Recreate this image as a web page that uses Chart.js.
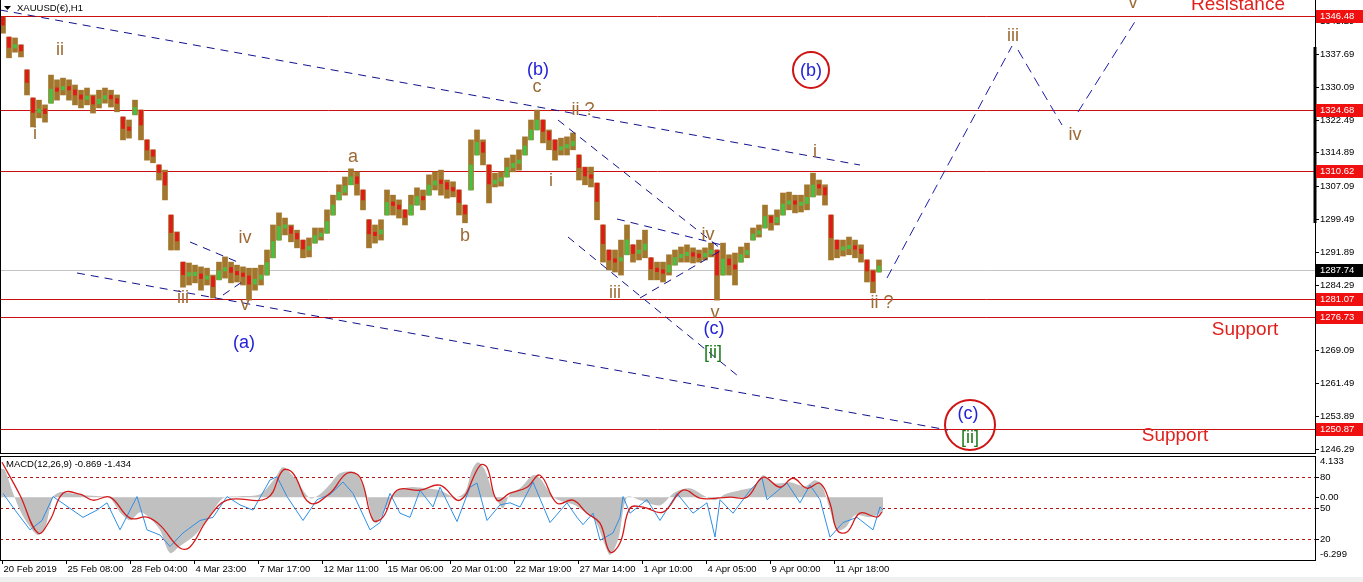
<!DOCTYPE html>
<html>
<head>
<meta charset="utf-8">
<script src="https://cdn.jsdelivr.net/npm/chart.js@4.4.0/dist/chart.umd.min.js"></script>
<style>
  html, body { margin: 0; padding: 0; background: #fff; }
  #wrap { position: relative; width: 1363px; height: 582px; overflow: hidden; background: #fff; }
  #main { position: absolute; left: 0; top: 0; }
  #osc { position: absolute; left: 0; top: 456px; }
  #foot { position: absolute; left: 0; top: 577px; width: 1363px; height: 5px; background: #f0f0f0; }
</style>
</head>
<body>
<div id="wrap">
  <canvas id="main" width="1363" height="456"></canvas>
  <canvas id="osc" width="1363" height="126"></canvas>
  <div id="foot"></div>
</div>
<script>
// price samples: every drawn bar groups ~6 hourly candles
const firstSample = 3
const sampleStep = 6
const highs = [
  1346.2,1341.6,1341.4,1339.8,1334.0,1327.5,1327.0,1325.9,1332.8,1331.7,
  1332.1,1331.7,1330.5,1329.3,1329.8,1328.2,1329.3,1329.8,1329.3,1328.2,
  1323.1,1322.4,1327.0,1324.7,1317.8,1315.5,1312.0,1310.8,1300.4,1296.5,
  1289.5,1289.3,1288.8,1288.4,1288.1,1286.5,1289.5,1290.7,1289.5,1288.8,
  1288.4,1288.1,1288.1,1288.8,1292.3,1298.1,1300.9,1299.7,1298.1,1296.9,
  1294.6,1295.1,1297.4,1297.4,1301.6,1305.0,1307.4,1309.2,1311.1,1310.4,
  1306.2,1299.3,1298.1,1299.3,1306.2,1305.0,1303.9,1301.6,1305.0,1306.7,
  1306.2,1309.7,1310.4,1310.8,1308.5,1308.1,1306.2,1302.7,1317.8,1320.1,
  1317.8,1312.0,1310.1,1310.4,1313.6,1314.3,1315.5,1318.5,1322.4,1324.7,
  1322.4,1320.1,1317.8,1318.2,1318.5,1319.4,1314.3,1311.5,1311.5,1307.8,
  1298.1,1292.3,1292.3,1294.6,1298.1,1293.5,1294.6,1296.9,1290.5,1289.5,
  1289.5,1291.2,1292.3,1293.0,1293.5,1292.8,1292.3,1292.8,1293.9,1292.3,
  1293.9,1291.2,1291.6,1293.0,1293.9,1297.4,1298.1,1302.7,1300.4,1301.6,
  1305.5,1305.7,1305.0,1305.0,1307.4,1310.1,1308.5,1307.4,1300.4,1294.6,
  1294.6,1295.3,1294.6,1293.5,1290.0,1287.7,1290.0
]
const lows = [
  1342.5,1336.8,1338.1,1337.0,1328.2,1320.8,1322.9,1321.9,1326.3,1327.0,
  1328.2,1327.0,1325.9,1325.2,1325.9,1324.0,1325.2,1326.3,1325.4,1324.3,
  1317.8,1318.2,1323.6,1317.8,1313.1,1312.5,1308.5,1303.9,1292.3,1292.3,
  1283.7,1284.2,1284.7,1283.0,1284.2,1281.2,1285.4,1285.8,1284.7,1284.9,
  1284.2,1280.7,1283.0,1284.2,1286.5,1290.5,1294.6,1295.8,1294.2,1292.8,
  1290.5,1290.7,1293.9,1294.6,1296.2,1300.4,1303.9,1305.0,1307.4,1305.0,
  1301.6,1292.8,1293.9,1294.6,1300.4,1300.4,1299.7,1298.1,1300.4,1302.7,
  1301.6,1305.0,1306.2,1305.0,1304.3,1304.6,1300.4,1298.6,1306.2,1314.3,
  1312.0,1303.2,1306.9,1307.1,1309.2,1310.4,1310.8,1314.3,1317.8,1320.1,
  1317.1,1315.5,1313.1,1314.3,1314.3,1315.5,1308.5,1307.4,1306.9,1299.3,
  1289.5,1287.7,1287.2,1286.5,1291.2,1289.5,1290.0,1290.5,1285.4,1285.4,
  1284.9,1286.5,1288.8,1289.5,1289.5,1289.3,1289.5,1290.0,1290.7,1280.7,
  1286.5,1286.5,1284.2,1289.5,1290.5,1294.6,1295.3,1297.4,1296.9,1298.1,
  1300.4,1301.6,1300.9,1301.1,1301.6,1304.6,1305.0,1302.7,1290.0,1290.5,
  1290.9,1291.2,1290.5,1289.5,1284.9,1282.4,1287.2
]

const levelPrices = [1346.48, 1324.68, 1310.62, 1281.07, 1276.73, 1250.87]
const lastPrice = 1287.74
const priceTicks = [1345.29, 1337.69, 1330.09, 1322.49, 1314.89, 1307.09, 1299.49,
  1291.89, 1284.29, 1276.69, 1269.09, 1261.49, 1253.89, 1246.29]

const dateTickBars = [2, 66, 130, 194, 258, 322, 386, 450, 514, 578, 642, 706, 770, 834]
const dateLabels = ["20 Feb 2019", "25 Feb 08:00", "28 Feb 04:00", "4 Mar 23:00", "7 Mar 17:00",
  "12 Mar 11:00", "15 Mar 06:00", "20 Mar 01:00", "22 Mar 19:00", "27 Mar 14:00",
  "1 Apr 10:00", "4 Apr 05:00", "9 Apr 00:00", "11 Apr 18:00"]

// MACD histogram (grey), signal (red), oscillator 0-100 (blue)
const histBars = [1,5,12,20,30,38,45,53,60,70,85,100,110,120,130,140,150,160,170,180,
  195,210,223,240,260,275,283,295,310,320,330,340,355,365,375,385,395,410,425,440,
  455,465,472,478,485,492,497,503,510,520,533,540,548,555,565,575,585,595,605,610,
  618,627,640,660,675,690,705,715,725,740,755,763,775,790,805,815,822,830,837,845,
  855,870,883]
const histValues = [2.9,2.7,0.7,-1.3,-3.0,-3.8,-3.1,0,0.5,0.4,0.2,0.1,-0.1,-1.5,-2.3,-1.5,-2.1,-3.3,-5.6,-4.9,
  -3.8,-1.8,-0.1,0.1,0.3,1.9,3.0,1.9,-0.1,0.3,1.3,2.4,2.5,0.7,-2.6,-1.3,0.5,1.0,0.9,0.7,
  0,0.5,2.7,3.5,2.7,0.7,-0.3,-1.1,0.3,0.9,2.2,1.9,0.7,-0.1,-0.5,-0.8,-1.5,-2.3,-4.8,-5.8,
  -4.3,0,-0.3,-0.8,0.5,0.9,0.1,-0.3,0.3,0.7,1.1,2.2,1.4,1.5,1.1,1.7,1.2,-1.3,-3.3,-3.1,
  -1.8,-2.0,-1.5]
const signalBars = [2,20,38,50,63,80,93,110,130,147,160,180,190,207,227,267,283,293,310,330,
  347,360,373,383,397,420,440,460,480,487,497,510,527,540,557,573,587,600,610,620,
  630,643,663,683,700,717,730,747,763,780,793,807,820,830,837,847,860,877,882]
const signalValues = [3.5,0.2,-3.6,-2.3,0.4,0.3,-0.3,0,-2.1,-2.0,-2.8,-5.1,-5.0,-2.3,-0.3,-0.1,2.7,2.4,-0.6,0.4,
  2.4,2.0,-2.3,-2.0,0.7,0.7,1.2,-0.3,3.2,3.0,-0.3,0.4,1.0,2.2,-0.6,-0.3,-1.6,-2.6,-5.5,-4.6,
  -1.1,-1.0,-1.5,0.7,-0.1,-0.1,0,0,2.0,1.0,1.9,0.9,1.4,-0.6,-3.3,-3.5,-1.6,-2.0,-1.5]
const oscBars = [3,15,30,42,53,65,83,97,107,120,137,147,160,170,183,200,213,227,240,253,
  270,277,287,303,317,330,343,353,370,380,390,400,410,420,433,440,457,470,477,487,
  500,510,520,533,550,567,577,583,593,600,613,620,623,630,647,660,677,693,707,715,
  720,733,750,762,767,787,800,810,820,830,843,857,873,880,883]
const oscValues = [64,48,29,38,61,53,41,48,55,29,61,29,24,13,26,38,41,61,53,48,
  77,80,61,38,58,63,75,64,29,36,64,45,41,67,51,70,37,70,74,38,
  53,55,51,75,36,55,41,34,45,19,26,41,61,45,58,38,64,45,55,22,
  58,45,67,79,58,74,55,72,58,22,36,41,29,51,48]
const oscLevels = [80, 50, 20]

// wave count annotations, placed in (bar, price)
const waveMarks = [
  ["ii", 60, 1338.6, "wave"], ["i", 35, 1319.2, "wave"], ["iii", 183, 1281.2, "wave"],
  ["iv", 245, 1295.1, "wave"], ["v", 245, 1279.6, "wave"], ["a", 353, 1313.8, "wave"],
  ["b", 465, 1295.5, "wave"], ["c", 537, 1330.0, "wave"], ["ii ?", 583, 1324.7, "wave"],
  ["i", 551, 1308.3, "wave"], ["iii", 615, 1282.3, "wave"], ["iv", 708, 1295.8, "wave"],
  ["v", 715, 1277.7, "wave"], ["i", 815, 1315.0, "wave"], ["ii ?", 882, 1280.0, "wave"],
  ["iii", 1013, 1341.8, "wave"], ["iv", 1075, 1318.9, "wave"], ["v", 1133, 1349.5, "wave"],
  ["(b)", 538, 1334.0, "degree"], ["(a)", 244, 1270.8, "degree"], ["(c)", 714, 1274.0, "degree"],
  ["(b)", 811, 1333.7, "degree"], ["(c)", 968, 1254.3, "degree"],
  ["[ii]", 713, 1268.5, "minor"], ["[ii]", 970, 1248.8, "minor"],
  ["Resistance", 1238, 1349.0, "zone"], ["Support", 1245, 1273.8, "zone"], ["Support", 1175, 1249.2, "zone"]
]
const ringMarks = [[811, 1334.0], [970, 1251.8]]
const trendLines = [
  [0, 1347.87, 860, 1311.98], [77, 1286.98, 948, 1250.63],
  [190, 1294.16, 240, 1289.30], [223, 1281.89, 242, 1284.90],
  [558, 1322.40, 720, 1292.77], [568, 1295.31, 738, 1263.14],
  [617, 1299.48, 722, 1293.46], [640, 1281.19, 722, 1292.31]
]
const projectionLines = [[887, 1285.82, 1012, 1339.53], [1018, 1338.61, 1062, 1321.24], [1078, 1324.25, 1136, 1345.55]]

const FONT = "'Liberation Sans', Arial, sans-serif"
const markColors = { wave: "#9c6a34", degree: "#2222d8", minor: "#1b7a1b", zone: "#e0201c" }

// candles: body runs from previous sample's mid to this one's
const mids = highs.map((h, i) => (h + lows[i]) / 2)
const candles = highs.map((h, i) => {
  const lo = lows[i]
  let open = i ? Math.min(Math.max(mids[i - 1], lo), h) : h
  let close = mids[i]
  let bLo = Math.min(open, close), bHi = Math.max(open, close)
  if (bHi - bLo < 0.8) { const c = (bHi + bLo) / 2; bLo = c - 0.4; bHi = c + 0.4 }
  return { x: firstSample + i * sampleStep, lo, hi: h, bLo, bHi, up: close >= open }
})

function line(ctx, x1, y1, x2, y2) {
  ctx.beginPath(); ctx.moveTo(x1, y1); ctx.lineTo(x2, y2); ctx.stroke()
}

const mainDecor = {
  id: "mainDecor",
  beforeDatasetsDraw(chart) {
    const { ctx, chartArea: a, scales: { y } } = chart
    ctx.save()
    ctx.lineWidth = 1
    ctx.strokeStyle = "#c4c4c4"
    let py = Math.round(y.getPixelForValue(lastPrice)) + 0.5
    line(ctx, a.left, py, a.right, py)
    ctx.strokeStyle = "#cc1010"
    levelPrices.forEach(p => {
      py = Math.round(y.getPixelForValue(p)) + 0.5
      line(ctx, a.left, py, a.right, py)
    })
    ctx.restore()
  },
  afterDatasetsDraw(chart) {
    const { ctx, scales: { x, y } } = chart
    ctx.save()
    ctx.lineWidth = 1
    ctx.strokeStyle = "#10108c"
    ctx.setLineDash([8, 6])
    trendLines.forEach(t => line(ctx, x.getPixelForValue(t[0]), y.getPixelForValue(t[1]), x.getPixelForValue(t[2]), y.getPixelForValue(t[3])))
    ctx.strokeStyle = "#1c1ca8"
    ctx.setLineDash([10, 6])
    projectionLines.forEach(t => line(ctx, x.getPixelForValue(t[0]), y.getPixelForValue(t[1]), x.getPixelForValue(t[2]), y.getPixelForValue(t[3])))
    ctx.setLineDash([])

    ctx.strokeStyle = "#d01414"
    ctx.lineWidth = 2
    ringMarks.forEach((r, i) => {
      ctx.beginPath()
      ctx.arc(x.getPixelForValue(r[0]), y.getPixelForValue(r[1]), i ? 25 : 18, 0, Math.PI * 2)
      ctx.stroke()
    })

    ctx.textAlign = "center"
    ctx.textBaseline = "middle"
    waveMarks.forEach(m => {
      ctx.font = (m[3] === "zone" ? "19px " : "18px ") + FONT
      ctx.fillStyle = markColors[m[3]]
      ctx.fillText(m[0], x.getPixelForValue(m[1]), y.getPixelForValue(m[2]))
    })
    ctx.restore()
  },
  afterDraw(chart) {
    const { ctx, chartArea: a, scales: { y } } = chart
    ctx.save()
    ctx.strokeStyle = "#000"
    ctx.lineWidth = 1
    line(ctx, 0.5, 0, 0.5, a.bottom + 0.5)
    line(ctx, 0, a.bottom + 0.5, a.right + 1, a.bottom + 0.5)
    line(ctx, a.right + 0.5, 0, a.right + 0.5, a.bottom + 0.5)
    ctx.lineWidth = 3
    line(ctx, a.right, 47, a.right, 223)
    ctx.lineWidth = 1

    ctx.font = "9.5px " + FONT
    ctx.textBaseline = "middle"
    ctx.textAlign = "left"
    ctx.fillStyle = "#000"
    priceTicks.forEach(p => {
      const py = Math.round(y.getPixelForValue(p)) + 0.5
      line(ctx, a.right, py, a.right + 4, py)
      ctx.fillText(p.toFixed(2), a.right + 5, py)
    })
    const box = (p, bg) => {
      const py = Math.round(y.getPixelForValue(p))
      ctx.fillStyle = bg
      ctx.fillRect(a.right + 1, py - 6, 48, 13)
      ctx.fillStyle = "#fff"
      ctx.fillText(p.toFixed(2), a.right + 5, py + 0.5)
    }
    levelPrices.forEach(p => box(p, "#f01010"))
    box(lastPrice, "#000")

    // symbol caption
    ctx.fillStyle = "#000"
    ctx.beginPath(); ctx.moveTo(4, 6); ctx.lineTo(11, 6); ctx.lineTo(7.5, 10); ctx.closePath(); ctx.fill()
    ctx.fillText("XAUUSD(\u20ac),H1", 17, 8)
    ctx.restore()
  }
}

new Chart(document.getElementById("main"), {
  type: "bar",
  data: {
    datasets: [
      {
        data: candles.map(c => ({ x: c.x, y: [c.lo, c.hi] })),
        backgroundColor: "#a2762c",
        barThickness: 5,
        grouped: false,
        order: 2
      },
      {
        data: candles.map(c => ({ x: c.x, y: [c.bLo, c.bHi] })),
        backgroundColor: candles.map(c => c.up ? "#44c244" : "#e41818"),
        barThickness: 3,
        grouped: false,
        order: 1
      }
    ]
  },
  options: {
    responsive: false,
    animation: false,
    events: [],
    layout: { padding: { left: 0, right: 48, top: 1, bottom: 3 } },
    plugins: { legend: { display: false }, tooltip: { enabled: false } },
    scales: {
      x: { type: "linear", min: 0, max: 1315, offset: false, display: false },
      y: { min: 1245.31, max: 1349.95, display: false }
    }
  },
  plugins: [mainDecor]
})

const oscDecor = {
  id: "oscDecor",
  beforeDatasetsDraw(chart) {
    const { ctx, chartArea: a, scales: { y2 } } = chart
    ctx.save()
    ctx.strokeStyle = "#b01818"
    ctx.lineWidth = 1
    ctx.setLineDash([3, 3])
    oscLevels.forEach(v => {
      const py = Math.round(y2.getPixelForValue(v)) + 0.5
      line(ctx, a.left, py, a.right, py)
    })
    ctx.restore()
  },
  afterDraw(chart) {
    const { ctx, chartArea: a, scales: { x, y, y2 } } = chart
    ctx.save()
    ctx.strokeStyle = "#000"
    ctx.lineWidth = 1
    ctx.strokeRect(0.5, a.top + 0.5, a.right, a.bottom - a.top)
    ctx.font = "9.5px " + FONT
    ctx.fillStyle = "#000"
    ctx.textAlign = "left"
    ctx.textBaseline = "middle"
    ctx.fillText("MACD(12,26,9) -0.869 -1.434", 6, 8)

    const tick = (py, txt) => {
      line(ctx, a.right, py, a.right + 4, py)
      ctx.fillText(txt, a.right + 5, py)
    }
    oscLevels.forEach(v => tick(Math.round(y2.getPixelForValue(v)) + 0.5, String(v)))
    tick(Math.round(y.getPixelForValue(0)) + 0.5, "0.00")
    ctx.textBaseline = "top"
    ctx.fillText(y.max.toFixed(3), a.right + 5, a.top + 1)
    ctx.textBaseline = "bottom"
    ctx.fillText(y.min.toFixed(3), a.right + 5, a.bottom - 1)

    ctx.textBaseline = "middle"
    dateTickBars.forEach((b, i) => {
      const px = Math.round(x.getPixelForValue(b)) + 0.5
      line(ctx, px, a.bottom, px, a.bottom + 4)
      ctx.fillText(dateLabels[i], px + 1, a.bottom + 9)
    })
    ctx.restore()
  }
}

new Chart(document.getElementById("osc"), {
  type: "line",
  data: {
    datasets: [
      {
        data: histBars.map((b, i) => ({ x: b, y: histValues[i] })),
        yAxisID: "y",
        fill: "origin",
        backgroundColor: "#c0c0c0",
        borderWidth: 0,
        pointRadius: 0,
        tension: 0.3,
        order: 3
      },
      {
        data: oscBars.map((b, i) => ({ x: b, y: oscValues[i] })),
        yAxisID: "y2",
        borderColor: "#2e8fe6",
        borderWidth: 1,
        pointRadius: 0,
        tension: 0,
        fill: false,
        order: 2
      },
      {
        data: signalBars.map((b, i) => ({ x: b, y: signalValues[i] })),
        yAxisID: "y",
        borderColor: "#d41a1a",
        borderWidth: 1.3,
        pointRadius: 0,
        tension: 0.4,
        fill: false,
        order: 1
      }
    ]
  },
  options: {
    responsive: false,
    animation: false,
    events: [],
    layout: { padding: { left: 0, right: 48, top: 0, bottom: 22 } },
    plugins: { legend: { display: false }, tooltip: { enabled: false } },
    scales: {
      x: { type: "linear", min: 0, max: 1315, display: false },
      y: { min: -6.299, max: 4.133, display: false },
      y2: { min: 0, max: 100, display: false }
    }
  },
  plugins: [oscDecor]
})
</script>
</body>
</html>
